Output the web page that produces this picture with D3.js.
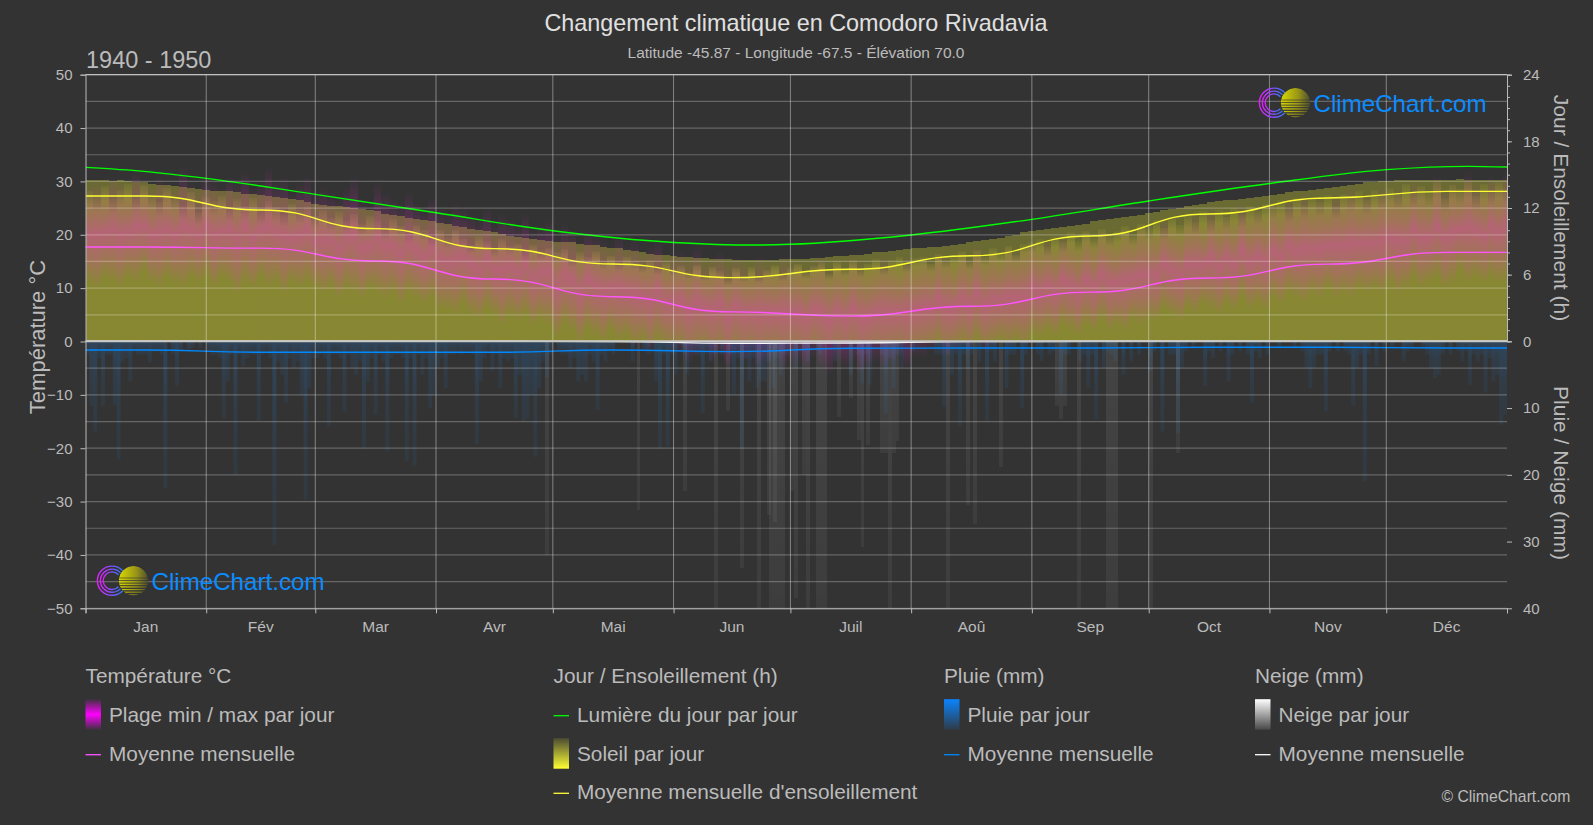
<!DOCTYPE html>
<html>
<head>
<meta charset="utf-8">
<title>Changement climatique en Comodoro Rivadavia</title>
<script src="https://cdn.jsdelivr.net/npm/d3@7"></script>
<style>
    html, body { margin: 0; padding: 0; background: #333; }
    svg { display: block; font-family: "Liberation Sans", Arial, sans-serif; }
    .axis path, .axis line { stroke: #bbb; }
    .axis text { fill: #bbb; font-size: 15px; font-family: "Liberation Sans", Arial, sans-serif; }
</style>
</head>
<body>
<div id="chart"></div>
<script>
const months = ["Jan", "Fév", "Mar", "Avr", "Mai", "Jun", "Juil", "Aoû", "Sep", "Oct", "Nov", "Déc"];
const monthStart = [0, 31, 59, 90, 120, 151, 181, 212, 243, 273, 304, 334, 365];

// monthly means
const tempMean = [17.7, 17.5, 15.1, 11.7, 8.4, 5.55, 4.75, 6.6, 9.25, 11.9, 14.5, 16.7];
const sunMean = [13.08, 11.82, 10.14, 8.34, 6.96, 5.73, 6.48, 7.7, 9.48, 11.46, 12.9, 13.5];
const rainMean = [1.3, 1.65, 1.65, 1.65, 1.3, 1.55, 1.05, 1.0, 1.0, 0.9, 0.9, 1.0];
const snowMean = [0, 0, 0, 0, 0.02, 0.3, 0.25, 0.05, 0, 0, 0, 0];

// daylight hours, [day of year, hours]
const daylight = [[0, 15.66], [15, 15.3], [31, 14.67], [59, 13.23], [90, 11.57], [120, 9.95], [151, 8.9], [172, 8.67], [181, 8.73],
    [212, 9.57], [243, 10.98], [273, 12.63], [304, 14.2], [334, 15.45], [355, 15.75], [365, 15.69]];

// values every second day
const sunTop = [14.5,14.5,14.5,14.4,14.5,14.4,14.3,14.3,14.2,14.1,14.1,14.0,13.9,13.8,13.7,13.6,
    13.55,13.5,13.5,13.4,13.3,13.3,13.2,13.1,13.0,12.9,12.8,12.7,12.5,12.4,
    12.3,12.2,12.2,12.1,12.0,11.9,11.8,11.7,11.5,11.4,11.3,11.1,11.0,10.9,10.8,10.65,
    10.6,10.4,10.3,10.1,10.0,9.9,9.8,9.7,9.5,9.4,9.3,9.2,9.1,9.0,
    8.95,8.9,8.9,8.8,8.7,8.7,8.5,8.4,8.4,8.2,8.1,8.0,7.9,7.8,7.8,7.7,
    7.6,7.6,7.5,7.5,7.4,7.4,7.4,7.3,7.3,7.3,7.3,7.3,7.3,7.4,7.4,
    7.4,7.4,7.5,7.5,7.6,7.7,7.7,7.8,7.8,7.9,8.0,8.0,8.1,8.2,8.3,8.4,
    8.4,8.5,8.5,8.6,8.7,8.8,8.9,9.0,9.1,9.2,9.3,9.5,9.6,9.8,9.95,
    10.0,10.1,10.2,10.3,10.4,10.5,10.6,10.8,10.9,11.0,11.1,11.2,11.3,11.4,11.55,
    11.6,11.8,11.9,12.0,12.2,12.3,12.4,12.5,12.6,12.7,12.7,12.8,12.9,13.0,13.1,
    13.2,13.3,13.4,13.5,13.5,13.6,13.7,13.8,13.9,14.0,14.1,14.2,14.3,14.3,14.4,
    14.4,14.5,14.5,14.5,14.5,14.5,14.5,14.5,14.5,14.6,14.5,14.5,14.5,14.5,14.5,14.5];

const sunMid = [13.5,13.0,14.0,12.8,13.6,14.2,12.9,14.1,13.2,12.5,13.8,13.0,12.2,13.4,11.6,13.0,
    12.6,13.1,12.0,12.8,12.2,12.9,11.7,12.6,12.1,11.4,12.4,11.8,12.1,11.3,
    11.8,11.1,11.7,10.8,11.5,10.6,11.3,10.9,10.2,11.0,10.4,9.8,10.5,10.0,9.4,10.0,
    9.3,10.0,9.2,8.7,9.5,9.0,8.4,9.2,8.6,8.8,8.0,8.7,8.1,8.4,
    8.0,8.3,7.4,8.0,7.6,8.1,7.2,7.7,7.0,7.6,7.2,6.8,7.3,6.6,7.1,6.5,
    6.8,6.2,6.9,6.0,6.7,6.3,5.6,6.6,5.9,6.7,5.8,6.4,6.9,6.0,6.6,
    7.0,6.2,6.8,7.1,6.1,7.2,6.5,7.3,6.4,7.0,7.4,6.6,7.3,7.6,6.9,7.5,
    7.6,7.0,7.9,7.3,7.7,8.1,7.2,8.2,7.6,8.4,8.0,8.6,7.8,8.8,8.9,
    9.2,8.5,9.4,8.9,9.8,9.0,9.9,9.3,10.1,9.5,9.9,10.4,9.6,10.6,10.2,
    10.9,10.2,11.2,10.5,11.3,10.7,11.7,10.9,11.8,11.2,12.0,11.4,12.2,11.7,12.4,
    12.3,12.7,11.9,12.9,12.3,13.0,12.5,13.2,12.2,13.3,12.9,13.5,12.7,13.6,13.1,
    13.8,13.2,14.2,13.4,14.0,13.5,14.3,12.9,14.1,13.7,14.3,13.1,14.2,13.6,14.3,13.8];

const tempMax = [29,30,29,31,30,29,32,30,29,31,30,29,33,30,29,31,
    30,29,31,30,32,29,30,33,30,31,28,30,31,28,
    29,28,27,29,31,27,26,30,28,27,26,28,26,25,27,25,
    24,26,25,24,23,25,22,24,23,22,24,21,22,23,
    20,22,21,19,21,20,19,18,20,18,19,17,18,19,16,17,
    17,16,18,15,16,17,15,16,15,14,16,15,14,16,15,
    15,14,15,16,14,15,14,16,15,14,15,16,15,14,16,15,
    16,15,17,16,15,17,16,18,16,17,16,18,17,18,19,
    18,19,18,20,19,18,20,19,21,20,19,21,20,22,21,
    21,23,22,21,23,24,22,25,23,24,23,26,24,25,24,
    26,25,27,26,28,26,27,26,28,27,29,27,28,27,29,
    28,29,28,30,29,28,31,29,30,29,32,30,29,31,30,32];

const tempMin = [11,10,12,11,10,12,11,13,11,10,12,11,10,12,11,12,
    10,12,11,9,11,10,12,10,11,9,11,10,11,10,
    9,10,8,10,9,8,10,9,8,9,7,9,8,7,8,6,
    6,5,7,5,4,6,5,3,5,4,5,3,4,3,
    1,3,2,0,2,1,0,2,0,1,-1,0,-2,0,-1,-2,
    -2,-4,-3,-2,-4,-3,-5,-3,-4,-3,-5,-4,-3,-5,-4,
    -4,-5,-3,-5,-6,-4,-5,-4,-6,-5,-4,-5,-4,-3,-5,-3,
    -3,-2,-1,-3,-2,-1,-2,0,-2,-1,0,-1,0,-1,1,
    1,2,1,3,2,1,3,2,4,2,3,2,4,3,4,
    4,6,5,4,6,5,7,6,5,7,6,8,6,7,6,
    8,7,9,8,7,9,8,10,8,9,8,10,9,10,9,
    11,9,10,12,10,11,12,10,11,13,11,12,11,12,11,12];

// wettest days, [day of year, mm]
const rainDays = [[1,9.7],[2,13.5],[4,9.7],[5,2],[7,9.5],[8,17.7],[9,3],[11,6],[13,2],[16,3.2],[18,1.5],[20,22],[23,6.7],[26,1.5],[29,1],
    [33,2],[35,11.5],[36,6],[38,20],[40,3.7],[42,2],[44,12],[46,1.5],[48,30.5],[50,5],[51,9.2],[53,4],[55,8],[56,23.7],[57,7],[59,2.5],
    [62,12.7],[64,2],[66,10.5],[68,4],[69,5],[71,16],[72,6],[74,11],[76,3],[77,16.5],[79,2],[82,18],[84,18.7],[86,5],[88,10],[89,8],[90,4],
    [92,7],[94,2],[97,1.5],[100,15.5],[101,6],[104,4.5],[106,7],[108,3],[110,11.5],[111,5],[112,12],[113,11.7],[114,8],[115,17.3],[116,7],[118,5.5],
    [122,2],[124,4],[126,6],[127,5],[128,6],[130,3],[131,10.3],[133,3],[135,2],[140,3],[144,2],[146,6],[147,16],[149,15.8],[151,5],
    [154,5],[156,2],[158,10.8],[160,3],[163,2],[166,8],[168,16],[170,6],[172,7],[173,6],[174,6],[176,7],[178,5],
    [182,4],[185,3],[188,2],[192,3],[196,5],[199,6.3],[201,6.5],[205,10.8],[207,7],[209,4],[212,1.5],
    [218,2],[220,9.8],[222,5],[224,12.8],[226,4],[229,3],[231,12],[233,3],[236,7],[238,2],[240,10],
    [245,3],[247,2],[250,8],[252,2],[255,3],[257,7],[259,11.7],[261,4],[264,3],[266,5],[268,3],[270,2],[273,4.5],
    [276,13.5],[278,2],[280,13.7],[281,4],[284,1],[287,6.7],[289,2.5],[293,6],[296,1.5],[299,9.2],[301,2.5],[303,2],
    [306,1],[310,1],[313,4],[314,7],[315,4],[318,10.5],[321,1.5],[323,1.5],[325,9.7],[326,4],[328,21],[331,3.7],[333,1.5],
    [338,3],[340,1],[343,1],[345,4],[346,5.5],[347,5],[350,2],[353,3],[355,6.5],[357,3],[359,7.7],[361,6],[362,5],[363,12.5],[364,11]];

// small showers filling the band just under the zero line
const rainLight = [[0,2],[3,2.5],[6,2],[10,2.5],[12,1.5],[14,2],[15,2],[17,1.5],[19,2],[22,2],[24,1.5],[27,1],[31,1.5],[32,2],[34,2.5],[37,2],[39,2],[41,2.5],
    [43,2],[45,2],[47,2.5],[49,3],[52,2.5],[54,3],[58,2.5],[60,2],[61,2.5],[63,2],[65,2.5],[67,2],[70,3],[73,2.5],[75,2],[78,2.5],[80,2],[81,2.5],[83,2.5],[85,2],[87,2.5],
    [91,2.5],[93,2],[95,1.5],[96,2],[98,1.5],[99,2],[102,2.5],[103,1.5],[105,2],[107,2.5],[109,2.5],[117,3],[119,2],[121,1.5],[123,2],[125,2.5],[129,2],[132,2],[134,1.5],
    [143,1.5],[148,2],[150,2],[153,2],[155,1.5],[157,2],[159,2],[161,2],[165,2],[167,2.5],[169,2.5],[171,2.5],[175,3],[177,2.5],[179,2],[180,2],[184,1.5],
    [198,2],[200,2],[204,2],[206,2.5],[208,2],[219,2],[221,2],[223,2],[225,2],[227,2],[232,1.5],[237,2],[241,2],[244,2],[248,1.5],[251,2],[256,2],[258,2],[262,1.5],[263,2],
    [274,1.5],[279,2],[282,1.5],[288,1.5],[291,1.5],[294,2],[298,2],[300,1.5],[312,1.5],[316,2],[317,2],[319,1.5],[324,2],[327,2],[329,2],[335,1],[339,1.5],[344,2],[348,2],[352,1.5],[354,1.5],[356,2],[358,2],[360,2.5]];

const snowDays = [[118,32],[141.5,25.3],[153.5,22.5],[161.5,40],[164.5,10.5],[168,34],[172.5,40],[175,26],[176.5,27],
    [175.5,40],[176.5,40],[177.5,40],[178.5,40],[181,22.5],[182,38.5],[184,20],[185,40],[187.5,40],[188.5,40],[189.5,40],
    [193,11.3],[196,8.5],[198,14.8],[199,30.8],[200.5,15.5],[204,16.8],[205,16.8],[206,40],[207,16.8],[208,15],[221,40],[226,24.5],[228,27.3],[234.5,18.8],
    [249,9.7],[250,11.7],[251,9.7],[254.5,40],[262,40],[263,40],[264,40],[273,40],[280,16.7]];

const legendCols = [
    { x: 85.5, title: "Température °C", rows: [
        { label: "Plage min / max par jour", swatch: "legendTemp" },
        { label: "Moyenne mensuelle", line: "#ff55ff" }] },
    { x: 553.5, title: "Jour / Ensoleillement (h)", rows: [
        { label: "Lumière du jour par jour", line: "#00ff00" },
        { label: "Soleil par jour", swatch: "legendSun" },
        { label: "Moyenne mensuelle d'ensoleillement", line: "#ffff33" }] },
    { x: 944, title: "Pluie (mm)", rows: [
        { label: "Pluie par jour", swatch: "legendRain" },
        { label: "Moyenne mensuelle", line: "#0088ff" }] },
    { x: 1255, title: "Neige (mm)", rows: [
        { label: "Neige par jour", swatch: "legendSnow" },
        { label: "Moyenne mensuelle", line: "#ffffff" }] }
];

const width = 1593, height = 825;
const left = 85.5, right = 1507, top_ = 74.7, zero = 341.3, bottom = 608.3;
const textColor = "#bbbbbb";

const svg = d3.select("#chart").append("svg").attr("width", width).attr("height", height);
svg.append("rect").attr("width", width).attr("height", height).attr("fill", "#333333");

const x = d3.scaleLinear().domain([0, 365]).range([left, right]);
const yTemp = d3.scaleLinear().domain([-50, 50]).range([bottom, top_]);
const yHours = d3.scaleLinear().domain([0, 24]).range([zero, top_]);
const yMm = d3.scaleLinear().domain([0, 40]).range([zero, bottom]);

const defs = svg.append("defs");
function addGradient(id, stops, horizontal) {
    const g = defs.append("linearGradient").attr("id", id)
        .attr("x1", 0).attr("y1", 0).attr("x2", horizontal ? 1 : 0).attr("y2", horizontal ? 0 : 1);
    stops.forEach(s => g.append("stop").attr("offset", s[0]).attr("stop-color", s[1]).attr("stop-opacity", s[2]));
}
addGradient("tempBar", [[0, "#ff28e0", 0], [0.3, "#ff28e0", 0.2], [0.5, "#ff28e0", 0.38], [0.75, "#ff28e0", 0.22], [1, "#ff28e0", 0]]);
addGradient("sunBar", [[0, "#ffff33", 0.04], [0.1, "#ffff33", 0.2], [1, "#ffff33", 0.2]]);
addGradient("rainBar", [[0, "#1e90ff", 0.2], [0.5, "#1e90ff", 0.1], [1, "#1e90ff", 0.07]]);
addGradient("snowBar", [[0, "#ffffff", 0.08], [1, "#ffffff", 0.05]]);
addGradient("legendTemp", [[0, "#ff00ff", 0.05], [0.5, "#ff00ff", 1], [1, "#ff00ff", 0.05]]);
addGradient("legendSun", [[0, "#ffff33", 0.12], [1, "#ffff33", 1]]);
addGradient("legendRain", [[0, "#0a84ff", 1], [1, "#0a84ff", 0.1]]);
addGradient("legendSnow", [[0, "#ffffff", 1], [1, "#ffffff", 0.1]]);
addGradient("ringGrad", [[0, "#e81cff", 1], [1, "#2f7bff", 1]], true);
addGradient("sunGrad", [[0, "#d8d800", 1], [0.6, "#989418", 1], [1, "#4c4c30", 1]], true);

defs.append("clipPath").attr("id", "plotClip").append("rect")
    .attr("x", left).attr("y", top_).attr("width", right - left).attr("height", bottom - top_);

const marks = svg.append("g").attr("clip-path", "url(#plotClip)");
const binDays = d3.range(sunTop.length).map(i => i * 2);

// sunshine, two layers to get the brighter lower part
marks.append("g").selectAll("rect").data(binDays).join("rect")
    .attr("x", d => x(d)).attr("width", x(2) - x(0))
    .attr("y", (d, i) => yHours(sunTop[i])).attr("height", (d, i) => zero - yHours(sunTop[i]))
    .attr("fill", "#ffff33").attr("opacity", 0.27).attr("shape-rendering", "crispEdges");
marks.append("g").selectAll("rect").data(binDays).join("rect")
    .attr("x", d => x(d)).attr("width", x(2) - x(0))
    .attr("y", (d, i) => yHours(sunMid[i])).attr("height", (d, i) => zero - yHours(sunMid[i]))
    .attr("fill", "url(#sunBar)").attr("shape-rendering", "crispEdges");

// min / max temperature
marks.append("g").selectAll("rect").data(binDays).join("rect")
    .attr("x", d => x(d)).attr("width", x(2) - x(0))
    .attr("y", (d, i) => yTemp(tempMax[i])).attr("height", (d, i) => yTemp(tempMin[i]) - yTemp(tempMax[i]))
    .attr("fill", "url(#tempBar)").attr("shape-rendering", "crispEdges");

// rain and snow per day
marks.append("g").selectAll("rect").data(rainDays.concat(rainLight)).join("rect")
    .attr("x", d => x(d[0])).attr("width", x(1) - x(0))
    .attr("y", zero).attr("height", d => yMm(d[1]) - zero)
    .attr("fill", "url(#rainBar)");
marks.append("g").selectAll("rect").data(snowDays).join("rect")
    .attr("x", d => x(d[0])).attr("width", x(1) - x(0))
    .attr("y", zero).attr("height", d => yMm(d[1]) - zero)
    .attr("fill", "url(#snowBar)").attr("shape-rendering", "crispEdges");

// grid
const grid = svg.append("g");
grid.selectAll(".h").data(d3.range(-50, 51, 5)).join("line")
    .attr("x1", left).attr("x2", right).attr("y1", d => yTemp(d)).attr("y2", d => yTemp(d))
    .attr("stroke", "#ffffff").attr("stroke-opacity", 0.25).attr("stroke-width", 1.2);
grid.selectAll(".v").data(monthStart.slice(1, -1)).join("line")
    .attr("x1", d => x(d)).attr("x2", d => x(d)).attr("y1", top_).attr("y2", bottom)
    .attr("stroke", "#ffffff").attr("stroke-opacity", 0.4).attr("stroke-width", 1);

// lines
function monthlyPoints(values) {
    const pts = values.map((v, i) => [(monthStart[i] + monthStart[i + 1]) / 2, v]);
    return [[0, values[0]], ...pts, [365, values[11]]];
}
function drawLine(points, color, scale, curve, w) {
    const line = d3.line().x(d => x(d[0])).y(d => scale(d[1])).curve(curve);
    marks.append("path").attr("d", line(points)).attr("fill", "none").attr("stroke", color).attr("stroke-width", w);
}
drawLine(daylight, "#00ff00", yHours, d3.curveMonotoneX, 1.4);
drawLine(monthlyPoints(sunMean), "#ffff33", yHours, d3.curveBumpX, 1.4);
drawLine(monthlyPoints(tempMean), "#ff55ff", yTemp, d3.curveBumpX, 1.4);

// axes frame
svg.append("line").attr("x1", left).attr("x2", right).attr("y1", zero).attr("y2", zero)
    .attr("stroke", "#c8c8c8").attr("stroke-width", 2);
drawLine(monthlyPoints(snowMean), "#ffffff", yMm, d3.curveBumpX, 1.4);
drawLine(monthlyPoints(rainMean), "#0088ff", yMm, d3.curveBumpX, 1.4);
svg.append("line").attr("x1", left).attr("x2", right).attr("y1", top_).attr("y2", top_)
    .attr("stroke", "#c0c0c0").attr("stroke-width", 1.2);

const axisLeft = d3.axisLeft(yTemp).tickValues(d3.range(-50, 51, 10)).tickSize(5).tickPadding(8);
svg.append("g").attr("class", "axis").attr("transform", `translate(${left},0)`).call(axisLeft);

const axisHours = d3.axisRight(yHours).tickValues(d3.range(0, 25, 6)).tickSize(5).tickPadding(11);
svg.append("g").attr("class", "axis").attr("transform", `translate(${right},0)`).call(axisHours);
const axisHoursMinor = d3.axisRight(yHours).tickValues(d3.range(0, 25, 1)).tickSize(3).tickFormat("");
svg.append("g").attr("class", "axis").attr("transform", `translate(${right},0)`).call(axisHoursMinor);

const axisMm = d3.axisRight(yMm).tickValues([10, 20, 30, 40]).tickSize(5).tickPadding(11);
svg.append("g").attr("class", "axis").attr("transform", `translate(${right},0)`).call(axisMm)
    .select("path").remove();

const axisBottom = d3.axisBottom(x).tickValues(monthStart).tickSize(5).tickFormat("");
svg.append("g").attr("class", "axis").attr("transform", `translate(0,${bottom})`).call(axisBottom);

svg.append("g").selectAll("text").data(months).join("text")
    .attr("x", (d, i) => x((monthStart[i] + monthStart[i + 1]) / 2)).attr("y", 631.5)
    .attr("text-anchor", "middle").attr("fill", textColor).attr("font-size", 15.5).text(d => d);

// titles
function addText(str, px, py, size, color, anchor, rotate) {
    const t = svg.append("text").attr("font-size", size).attr("fill", color)
        .attr("text-anchor", anchor || "start").text(str);
    if (rotate) t.attr("transform", `translate(${px},${py}) rotate(${rotate})`);
    else t.attr("x", px).attr("y", py);
    return t;
}
addText("Changement climatique en Comodoro Rivadavia", 796, 30.5, 23.4, "#e0e0e0", "middle");
addText("Latitude -45.87 - Longitude -67.5 - Élévation 70.0", 796, 57.5, 15.5, textColor, "middle");
addText("1940 - 1950", 86, 67.5, 23.5, textColor);
addText("Température °C", 45, 337, 22, textColor, "middle", -90);
addText("Jour / Ensoleillement (h)", 1554, 208, 21, textColor, "middle", 90);
addText("Pluie / Neige (mm)", 1554, 473, 21, textColor, "middle", 90);
addText("© ClimeChart.com", 1441.5, 801.5, 15.75, textColor);

// legend
const rowText = [721.7, 760.7, 799.3];
legendCols.forEach(col => {
    addText(col.title, col.x, 682.7, 20.8, textColor);
    col.rows.forEach((row, i) => {
        addText(row.label, col.x + 23.5, rowText[i], 20.8, textColor);
        if (row.line) {
            svg.append("line").attr("x1", col.x).attr("x2", col.x + 15.5)
                .attr("y1", rowText[i] - 6).attr("y2", rowText[i] - 6)
                .attr("stroke", row.line).attr("stroke-width", 1.3);
        } else {
            svg.append("rect").attr("x", col.x).attr("y", rowText[i] - 22.5)
                .attr("width", 15.5).attr("height", 30.5).attr("fill", `url(#${row.swatch})`);
        }
    });
});

// logo, drawn twice
function drawLogo(cx, cy, id) {
    const g = svg.append("g").attr("transform", `translate(${cx},${cy})`);
    const arc = d3.arc().startAngle(Math.PI / 2 + 0.75).endAngle(Math.PI / 2 + 2 * Math.PI - 0.75);
    [14.6, 11.6, 8.8].forEach(r => {
        g.append("path").attr("d", arc({ innerRadius: r - 0.7, outerRadius: r + 0.7 }))
            .attr("fill", "url(#ringGrad)");
    });
    const sun = g.append("g").attr("transform", "translate(21.5,0)");
    defs.append("clipPath").attr("id", id).append("circle").attr("r", 14.7);
    const inner = sun.append("g").attr("clip-path", `url(#${id})`);
    inner.append("circle").attr("r", 14.7).attr("fill", "url(#sunGrad)");
    [[-3, 0.6], [-0.5, 0.7], [2, 0.8], [4.5, 1], [7, 1.2], [9.5, 1.4], [12, 1.7]].forEach(s => {
        inner.append("rect").attr("x", -15).attr("width", 30).attr("y", s[0]).attr("height", s[1]).attr("fill", "#333333");
    });
    g.append("text").attr("x", 39.5).attr("y", 9.5).attr("font-size", 24).attr("fill", "#0a8cff")
        .attr("textLength", 173).attr("lengthAdjust", "spacingAndGlyphs").text("ClimeChart.com");
}
drawLogo(112, 580.7, "sunClipA");
drawLogo(1274, 102.7, "sunClipB");
</script>
</body>
</html>
